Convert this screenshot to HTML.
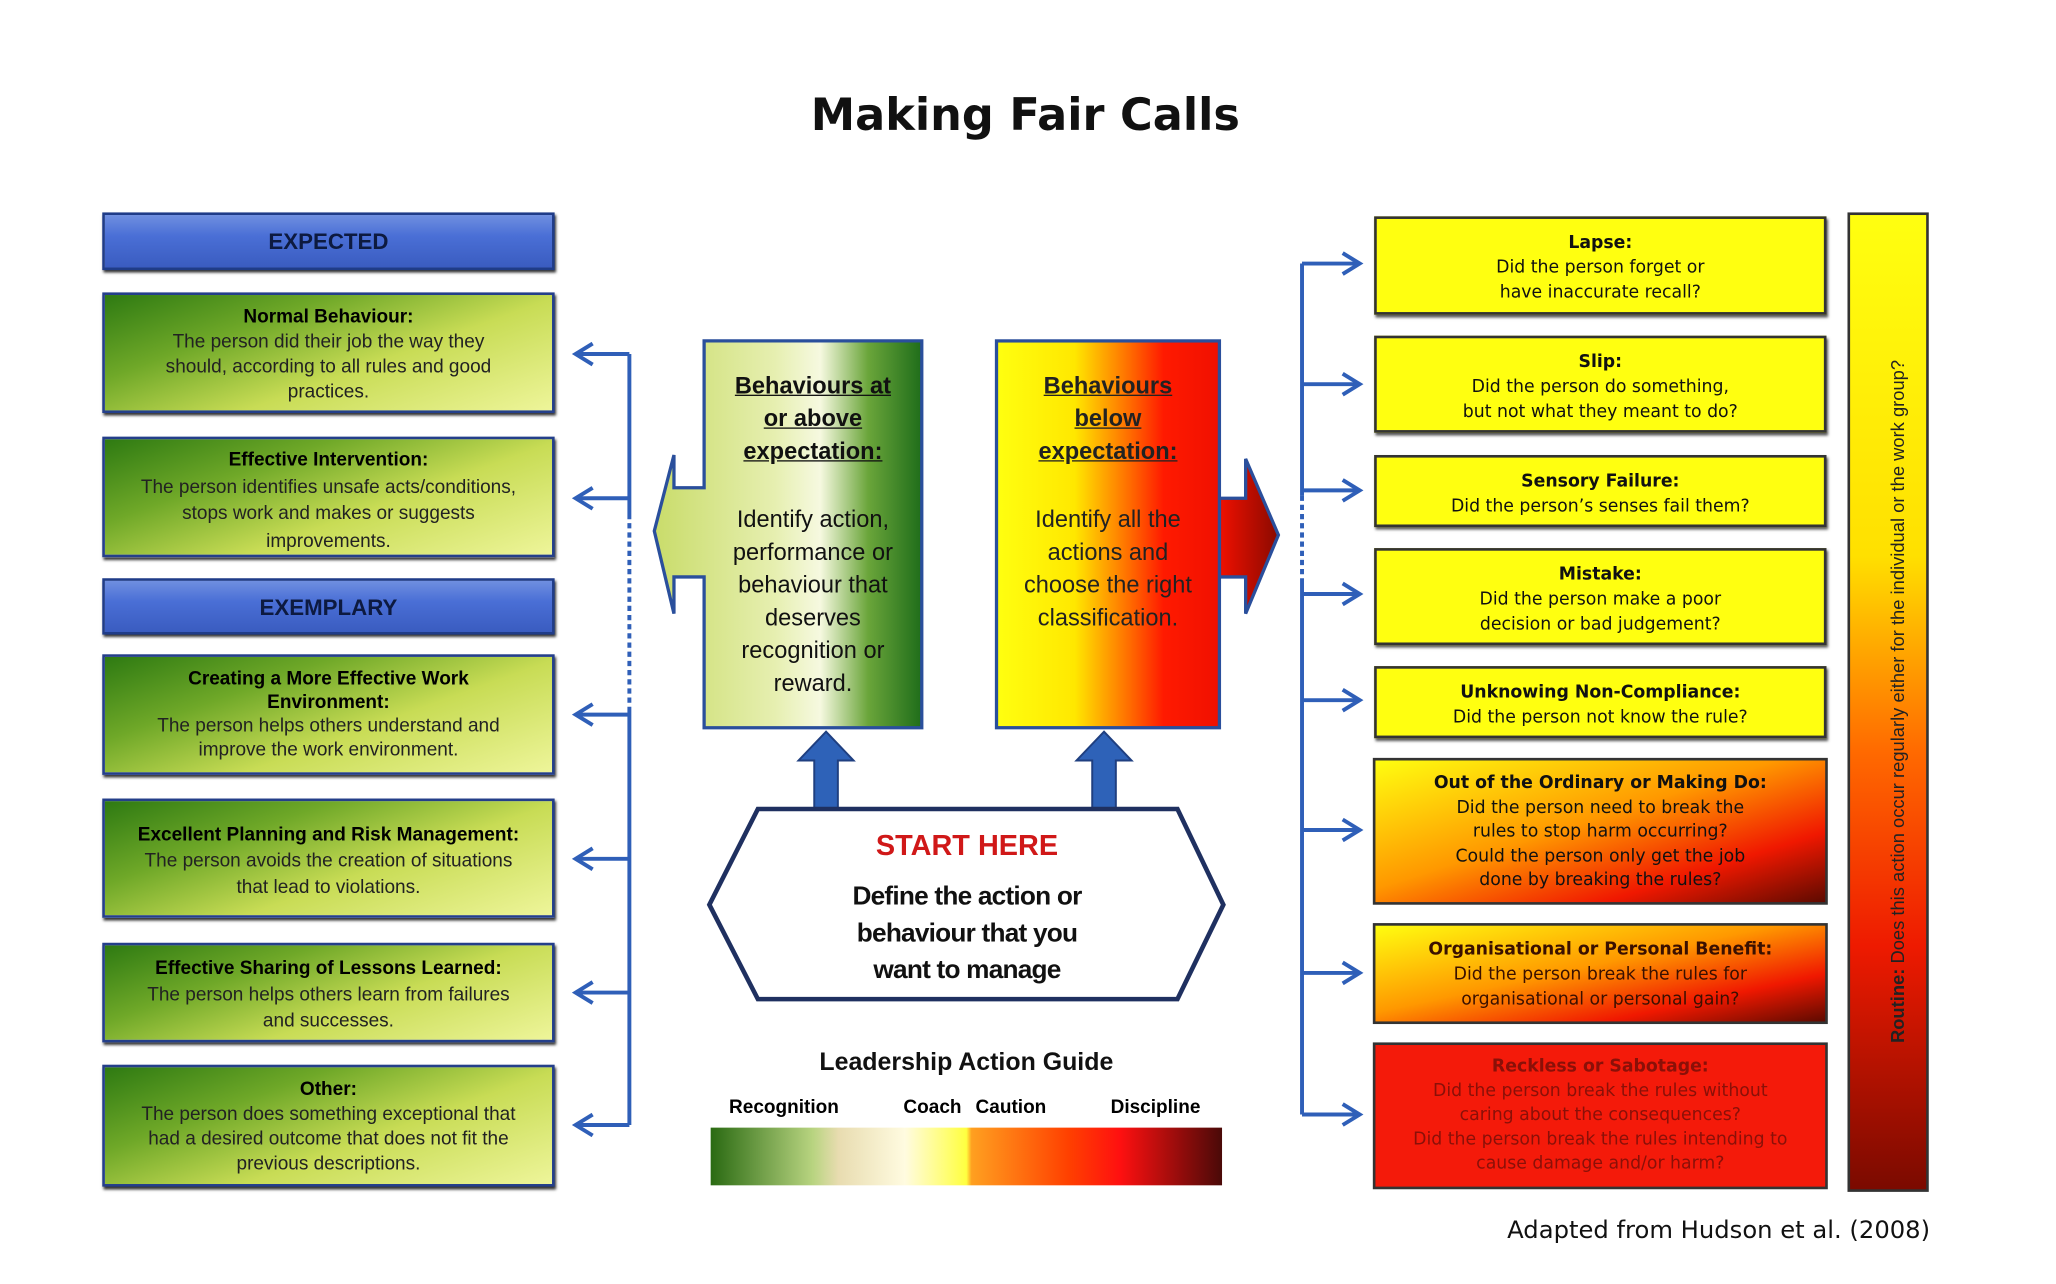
<!DOCTYPE html>
<html><head><meta charset="utf-8"><style>
html,body{margin:0;padding:0;background:#fff;overflow:hidden;width:2056px;height:1282px}
#c{position:absolute;left:0;top:0;width:1568px;height:979px;transform:scale(1.3112);transform-origin:0 0;font-family:"Liberation Sans",sans-serif}
.a{position:absolute;box-sizing:border-box}
.hdr{background:linear-gradient(#6f8fe0,#4a6fd6 40%,#3a5cc0);border:2px solid #1f3c88;box-shadow:1px 2px 2px #333;color:#0d1a40;font-weight:bold;font-size:17px;text-align:center}
.g{background:linear-gradient(160deg,#2e7a12 0%,#6fa828 30%,#c8dc55 60%,#eef59a 100%);border:2px solid #243f8a;box-shadow:1px 2px 2px #333;text-align:center;font-size:14.5px;line-height:19px;color:#222;padding-top:8px;white-space:nowrap}
.g b{color:#000}
.y{border:2px solid #333;box-shadow:1px 2px 2px #555;text-align:center;font-family:"DejaVu Sans",sans-serif;font-size:13.2px;line-height:19px;color:#111;padding-top:9px}
.y b{font-weight:bold}
</style></head><body><div id="c">
<div class="a" style="left:0;top:68px;width:1568px;text-align:center;font-family:'DejaVu Sans',sans-serif;font-weight:bold;font-size:34px;color:#111"><span style="position:relative;left:-2px">Making Fair Calls</span></div>

<div class="a hdr" style="left:78px;top:162px;width:345px;height:44px;line-height:42px">EXPECTED</div>
<div class="a g" style="left:78px;top:223px;width:345px;height:92px"><b>Normal Behaviour:</b><br>The person did their job the way they<br>should, according to all rules and good<br>practices.</div>
<div class="a g" style="left:78px;top:333px;width:345px;height:92px;line-height:20.5px;padding-top:6px"><b>Effective Intervention:</b><br>The person identifies unsafe acts/conditions,<br>stops work and makes or suggests<br>improvements.</div>
<div class="a hdr" style="left:78px;top:441px;width:345px;height:43px;line-height:41px">EXEMPLARY</div>
<div class="a g" style="left:78px;top:499px;width:345px;height:92px;line-height:18px"><b>Creating a More Effective Work<br>Environment:</b><br>The person helps others understand and<br>improve the work environment.</div>
<div class="a g" style="left:78px;top:609px;width:345px;height:91px;padding-top:16px;line-height:20px"><b>Excellent Planning and Risk Management:</b><br>The person avoids the creation of situations<br>that lead to violations.</div>
<div class="a g" style="left:78px;top:719px;width:345px;height:76px;line-height:20px"><b>Effective Sharing of Lessons Learned:</b><br>The person helps others learn from failures<br>and successes.</div>
<div class="a g" style="left:78px;top:812px;width:345px;height:93px"><b>Other:</b><br>The person does something exceptional that<br>had a desired outcome that does not fit the<br>previous descriptions.</div>

<svg class="a" style="left:0;top:0" width="1568" height="979">
<defs>
<linearGradient id="lg" x1="0" x2="1"><stop offset="0" stop-color="#c9dc6a"/><stop offset="0.45" stop-color="#e6efb0"/><stop offset="0.62" stop-color="#f6f9e0"/><stop offset="0.8" stop-color="#6aa53a"/><stop offset="1" stop-color="#1f6d1a"/></linearGradient>
<linearGradient id="rg" x1="0" x2="1"><stop offset="0" stop-color="#ffff10"/><stop offset="0.35" stop-color="#ffe800"/><stop offset="0.6" stop-color="#ff6a00"/><stop offset="0.75" stop-color="#ff1a00"/><stop offset="1" stop-color="#f01000"/></linearGradient>
<linearGradient id="ra" x1="0" x2="1"><stop offset="0" stop-color="#f01000"/><stop offset="1" stop-color="#8a0a00"/></linearGradient>
<linearGradient id="bar" x1="0" x2="1"><stop offset="0" stop-color="#2a6a12"/><stop offset="0.2" stop-color="#b8d480"/><stop offset="0.25" stop-color="#e8dcb0"/><stop offset="0.38" stop-color="#fffbe0"/><stop offset="0.5" stop-color="#ffff40"/><stop offset="0.51" stop-color="#ffa020"/><stop offset="0.7" stop-color="#ff4000"/><stop offset="0.8" stop-color="#ff1010"/><stop offset="1" stop-color="#4a0a08"/></linearGradient>
<linearGradient id="tall" x1="0" x2="0" y1="0" y2="1"><stop offset="0" stop-color="#ffff10"/><stop offset="0.35" stop-color="#ffe000"/><stop offset="0.55" stop-color="#ff6a00"/><stop offset="0.75" stop-color="#ee1a00"/><stop offset="1" stop-color="#7a0a00"/></linearGradient>
<linearGradient id="rbox" x1="0" x2="1" y1="0" y2="1"><stop offset="0" stop-color="#ffff10"/><stop offset="0.45" stop-color="#ff9800"/><stop offset="0.75" stop-color="#f01800"/><stop offset="1" stop-color="#5a0a00"/></linearGradient>
</defs>
<g stroke="#2f5fb8" stroke-width="3" fill="none">
<line x1="480" y1="270" x2="480" y2="392"/>
<line x1="480" y1="392" x2="480" y2="540" stroke-dasharray="4 3"/>
<line x1="480" y1="540" x2="480" y2="858"/>
<line x1="480" y1="270" x2="440" y2="270"/><polyline points="452,262 439,270 452,278"/>
<line x1="480" y1="380" x2="440" y2="380"/><polyline points="452,372 439,380 452,388"/>
<line x1="480" y1="545" x2="440" y2="545"/><polyline points="452,537 439,545 452,553"/>
<line x1="480" y1="655" x2="440" y2="655"/><polyline points="452,647 439,655 452,663"/>
<line x1="480" y1="757" x2="440" y2="757"/><polyline points="452,749 439,757 452,765"/>
<line x1="480" y1="858" x2="440" y2="858"/><polyline points="452,850 439,858 452,866"/>
</g>
<g stroke="#2f5fb8" stroke-width="3" fill="none">
<line x1="993" y1="201" x2="993" y2="378"/>
<line x1="993" y1="378" x2="993" y2="445" stroke-dasharray="4 3"/>
<line x1="993" y1="445" x2="993" y2="850"/>
<line x1="993" y1="201" x2="1036" y2="201"/><polyline points="1024,193 1037,201 1024,209"/>
<line x1="993" y1="293" x2="1036" y2="293"/><polyline points="1024,285 1037,293 1024,301"/>
<line x1="993" y1="374" x2="1036" y2="374"/><polyline points="1024,366 1037,374 1024,382"/>
<line x1="993" y1="453" x2="1036" y2="453"/><polyline points="1024,445 1037,453 1024,461"/>
<line x1="993" y1="534" x2="1036" y2="534"/><polyline points="1024,526 1037,534 1024,542"/>
<line x1="993" y1="633" x2="1036" y2="633"/><polyline points="1024,625 1037,633 1024,641"/>
<line x1="993" y1="742" x2="1036" y2="742"/><polyline points="1024,734 1037,742 1024,750"/>
<line x1="993" y1="850" x2="1036" y2="850"/><polyline points="1024,842 1037,850 1024,858"/>
</g>
<polygon points="537,260 703,260 703,555 537,555 537,440 514,440 514,468 499,405 514,347 514,372 537,372" fill="url(#lg)" stroke="#2a4f9c" stroke-width="2.5"/>
<polygon points="950,380 950,350 975,408 950,468 950,440 930,440 930,380" fill="url(#ra)" stroke="#2a4f9c" stroke-width="2.5"/>
<rect x="760" y="260" width="170" height="295" fill="url(#rg)" stroke="#2a4f9c" stroke-width="2.5"/>
<polygon points="621,617 621,580 609,580 630,558 651,580 639,580 639,617" fill="#2e62b8" stroke="#1f3f80" stroke-width="1.5"/>
<polygon points="833,617 833,580 821,580 842,558 863,580 851,580 851,617" fill="#2e62b8" stroke="#1f3f80" stroke-width="1.5"/>
<polygon points="578,617 898,617 933,690 898,762 578,762 541,690" fill="#fff" stroke="#1f3060" stroke-width="3.5"/>
<rect x="542" y="860" width="390" height="44" fill="url(#bar)"/>
<rect x="1410" y="163" width="60" height="745" fill="url(#tall)" stroke="#333" stroke-width="2"/>
<rect x="1048" y="579" width="345" height="110" fill="url(#rbox)" stroke="#333" stroke-width="2"/>
<rect x="1048" y="705" width="345" height="75" fill="url(#rbox)" stroke="#333" stroke-width="2"/>
<rect x="1048" y="796" width="345" height="110" fill="#f41a0a" stroke="#333" stroke-width="2"/>
<text transform="translate(1452,535) rotate(-90)" text-anchor="middle" font-family="Liberation Sans,sans-serif" font-size="14" fill="#222"><tspan font-weight="bold">Routine:</tspan> Does this action occur regularly either for the individual or the work group?</text>
</svg>

<div class="a" style="left:537px;top:282px;width:166px;text-align:center;font-size:18px;line-height:25px;color:#111"><b style="text-decoration:underline">Behaviours at<br>or above<br>expectation:</b><br><div style="height:27px"></div>Identify action,<br>performance or<br>behaviour that<br>deserves<br>recognition or<br>reward.</div>
<div class="a" style="left:760px;top:282px;width:170px;text-align:center;font-size:18px;line-height:25px;color:#222"><b style="text-decoration:underline">Behaviours<br>below<br>expectation:</b><br><div style="height:27px"></div>Identify all the<br>actions and<br>choose the right<br>classification.</div>

<div class="a" style="left:540px;top:632px;width:395px;text-align:center;color:#d01818;font-weight:bold;font-size:22px">START HERE</div>
<div class="a" style="left:540px;top:670px;width:395px;text-align:center;color:#111;font-weight:bold;font-size:20px;line-height:28px;letter-spacing:-0.6px">Define the action or<br>behaviour that you<br>want to manage</div>

<div class="a" style="left:542px;top:800px;width:390px;text-align:center;font-weight:bold;font-size:19px;color:#111">Leadership Action Guide</div>
<div class="a" style="left:556px;top:837px;font-weight:bold;font-size:14.5px">Recognition</div>
<div class="a" style="left:689px;top:837px;font-weight:bold;font-size:14.5px">Coach</div>
<div class="a" style="left:744px;top:837px;font-weight:bold;font-size:14.5px">Caution</div>
<div class="a" style="left:847px;top:837px;font-weight:bold;font-size:14.5px">Discipline</div>

<div class="a y" style="left:1048px;top:165px;width:345px;height:75px;background:#ffff10"><b>Lapse:</b><br>Did the person forget or<br>have inaccurate recall?</div>
<div class="a y" style="left:1048px;top:256px;width:345px;height:74px;background:#ffff10"><b>Slip:</b><br>Did the person do something,<br>but not what they meant to do?</div>
<div class="a y" style="left:1048px;top:347px;width:345px;height:55px;background:#ffff10"><b>Sensory Failure:</b><br>Did the person’s senses fail them?</div>
<div class="a y" style="left:1048px;top:418px;width:345px;height:74px;background:#ffff10"><b>Mistake:</b><br>Did the person make a poor<br>decision or bad judgement?</div>
<div class="a y" style="left:1048px;top:508px;width:345px;height:55px;background:#ffff10"><b>Unknowing Non-Compliance:</b><br>Did the person not know the rule?</div>
<div class="a y" style="left:1048px;top:579px;width:345px;height:110px;border:none;box-shadow:none;line-height:18.5px;padding-top:10px"><b>Out of the Ordinary or Making Do:</b><br>Did the person need to break the<br>rules to stop harm occurring?<br>Could the person only get the job<br>done by breaking the rules?</div>
<div class="a y" style="left:1048px;top:705px;width:345px;height:75px;border:none;box-shadow:none;padding-top:10px;color:#3a1000"><b>Organisational or Personal Benefit:</b><br>Did the person break the rules for<br>organisational or personal gain?</div>
<div class="a y" style="left:1048px;top:796px;width:345px;height:110px;border:none;box-shadow:none;line-height:18.5px;padding-top:9px;color:#8a1008"><b>Reckless or Sabotage:</b><br>Did the person break the rules without<br>caring about the consequences?<br>Did the person break the rules intending to<br>cause damage and/or harm?</div>

<div class="a" style="left:1100px;top:928px;width:372px;text-align:right;font-family:'DejaVu Sans',sans-serif;font-size:18.5px;color:#111">Adapted from Hudson et al. (2008)</div>
</div></body></html>
